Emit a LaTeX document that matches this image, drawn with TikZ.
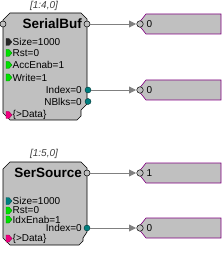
\documentclass[tikz,border=0pt]{standalone}
\usepackage{fontspec}
\setmainfont{Liberation Sans}
\usetikzlibrary{arrows.meta}
\definecolor{blk}{HTML}{C0C0C0}
\definecolor{pur}{HTML}{800080}
\definecolor{tealp}{HTML}{008080}
\definecolor{grn}{HTML}{00E000}
\definecolor{mag}{HTML}{F0007F}
\definecolor{lnk}{HTML}{808080}
\definecolor{ttl}{HTML}{404040}
\tikzset{
  blockshape/.style={draw=black, fill=blk, line width=0.6pt},
  dispshape/.style={draw=pur, fill=blk, line width=0.6pt},
  lbl/.style={inner sep=0pt, font=\fontsize{10}{12}\selectfont},
  idx/.style={inner sep=0pt, font=\fontsize{10}{12}\selectfont\itshape, text=ttl},
  bigttl/.style={inner sep=0pt, font=\fontsize{13.5}{15}\selectfont\bfseries},
  outc/.style={circle, draw=black, fill=blk, minimum size=6pt, inner sep=0pt, line width=0.5pt},
  tealc/.style={circle, draw=black!60!tealp, fill=tealp, minimum size=6pt, inner sep=0pt, line width=0.4pt},
  dinc/.style={circle, draw=black, fill=blk, minimum size=6.5pt, inner sep=0pt, line width=0.5pt},
  conn/.style={draw=lnk, line width=0.8pt, -{Triangle[length=7pt,width=7pt,fill=lnk]}, shorten >=0.5pt},
}
\newcommand{\inport}[3]{% name, y, color
  \fill[#3, draw=black!40!#3, line width=0.3pt] (6,#2-3.5) -- (9,#2-3.5) -- (12,#2) -- (9,#2+3.5) -- (6,#2+3.5) -- cycle;
  \coordinate (#1) at (6,#2);
}
\newcommand{\dispbox}[4]{% name, top, bottom, text
  \draw[dispshape] (146,#2) -- (221,#2) -- (221,#3) -- (146,#3) -- (138,{(#2+#3)/2}) -- cycle;
  \node[dinc] (#1) at (140,{(#2+#3)/2}) {};
  \node[lbl, anchor=west] (#1t) at (146.5,{(#2+#3)/2}) {#4};
}
\begin{document}
\begin{tikzpicture}[x=1pt, y=-1pt]
\useasboundingbox (0,0) rectangle (222,264);
% ---------- SerialBuf ----------
\node[idx] (t1) at (44,6) {[1:4,0]};
\draw[blockshape] (10,13) -- (81,13) -- (87,19) -- (87,104) -- (81,110) -- (81,116) -- (77,120) -- (10,120) -- (3,113) -- (3,20) -- cycle;
\node[outc] (b1in) at (3,24) {};
\node[bigttl, anchor=east] (b1name) at (82,24) {SerialBuf};
\node[outc] (b1out) at (87,24) {};
\inport{p1}{42}{black!85}
\node[lbl, anchor=west] (l1) at (12.5,42) {Size=1000};
\inport{p2}{53}{grn}
\node[lbl, anchor=west] (l2) at (12.5,53) {Rst=0};
\inport{p3}{65}{grn}
\node[lbl, anchor=west] (l3) at (12.5,65) {AccEnab=1};
\inport{p4}{77.5}{grn}
\node[lbl, anchor=west] (l4) at (12.5,77.5) {Write=1};
\node[lbl, anchor=east] (l5) at (82,90) {Index=0};
\node[tealc] (b1idx) at (88,90) {};
\node[lbl, anchor=east] (l6) at (82,101.5) {NBlks=0};
\node[tealc] (b1nb) at (88,101.5) {};
\inport{p5}{115}{mag}
\node[lbl, anchor=west] (l7) at (12.5,115) {\{>Data\}};
% ---------- SerSource ----------
\node[idx] (t2) at (44,154) {[1:5,0]};
\draw[blockshape] (10,162) -- (81,162) -- (87,168) -- (87,232) -- (83,238) -- (83,241) -- (79,245) -- (10,245) -- (3,238) -- (3,169) -- cycle;
\node[bigttl, anchor=east] (b2name) at (82,173) {SerSource};
\node[outc] (b2out) at (87,173) {};
\inport{q1}{201}{tealp}
\node[lbl, anchor=west] (m1) at (12.5,201) {Size=1000};
\inport{q2}{210.5}{grn}
\node[lbl, anchor=west] (m2) at (12.5,210.5) {Rst=0};
\inport{q3}{219.5}{grn}
\node[lbl, anchor=west] (m3) at (12.5,219.5) {IdxEnab=1};
\node[lbl, anchor=east] (m4) at (82,228) {Index=0};
\node[tealc] (b2idx) at (87,228) {};
\inport{q4}{238.5}{mag}
\node[lbl, anchor=west] (m5) at (12.5,238.5) {\{>Data\}};
% ---------- displays ----------
\dispbox{d1}{14}{34}{0}
\dispbox{d2}{80}{100}{0}
\dispbox{d3}{163}{183}{1}
\dispbox{d4}{218}{238}{0}
% ---------- connectors ----------
\draw[conn] (b1out) -- (d1);
\draw[conn] (b1idx) -- (d2);
\draw[conn] (b2out) -- (d3);
\draw[conn] (b2idx) -- (d4);
\end{tikzpicture}
\end{document}
